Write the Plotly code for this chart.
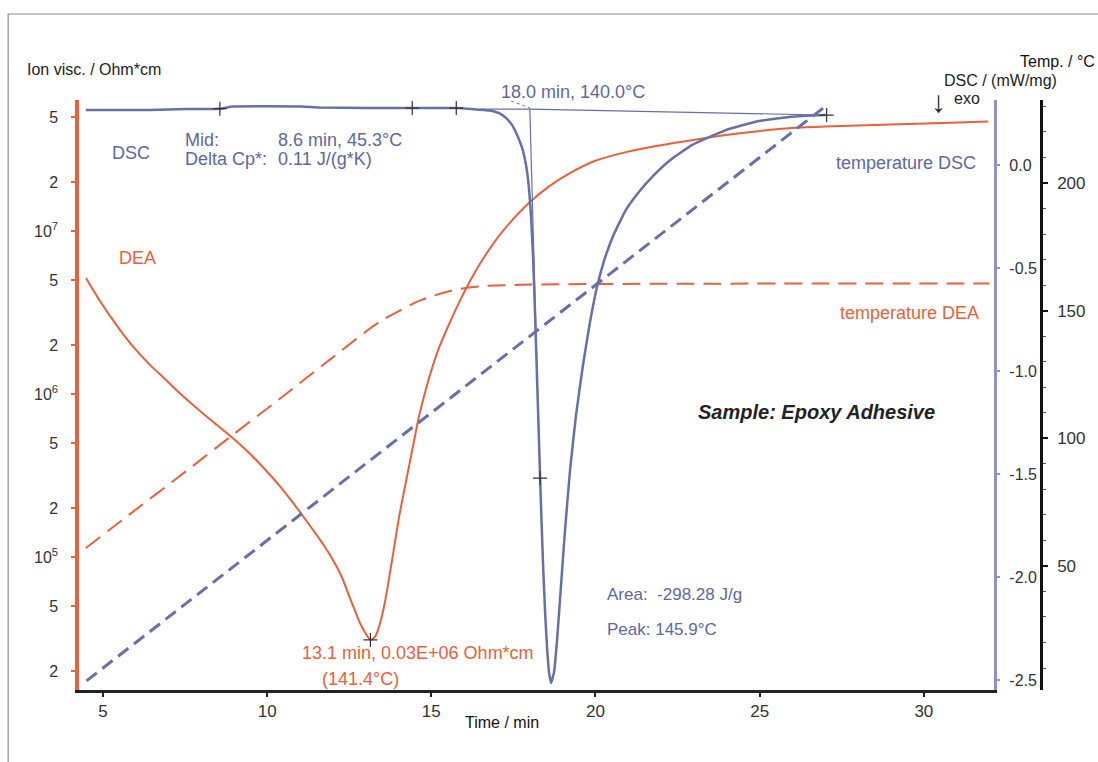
import plotly.graph_objects as go

# ---------------- data ----------------
# DEA ion viscosity (Ohm*cm) vs time (min)
time_dea = [4.483, 4.909, 5.365, 5.821, 6.429, 6.884, 7.340, 8.100, 8.951, 9.316, 9.681, 10.015, 10.38,
            10.714, 11.049, 11.383, 11.717, 12.05, 12.295, 12.508, 12.69, 12.842, 12.994, 13.146, 13.30,
            13.45, 13.60, 13.78, 14.03, 14.33, 14.635, 14.94, 15.243, 15.547, 15.851, 16.155, 16.459,
            16.915, 17.371, 17.979, 18.587, 19.195, 19.954, 20.927, 21.93, 22.93, 23.97, 24.97, 25.97,
            27.0, 28.0, 29.0, 30.05, 31.05, 31.96]
visc_dea = [5.15e6, 3.72e6, 2.73e6, 2.06e6, 1.51e6, 1.24e6, 1.01e6, 7.43e5, 5.37e5, 4.62e5, 3.91e5, 3.31e5,
            2.73e5, 2.25e5, 1.83e5, 1.48e5, 1.19e5, 9.25e4, 7.38e4, 5.69e4, 4.60e4, 3.88e4, 3.42e4, 3.10e4,
            3.27e4, 3.99e4, 5.45e4, 8.93e4, 1.81e5, 3.67e5, 7.43e5, 1.27e6, 1.94e6, 2.70e6, 3.66e6, 4.83e6,
            6.18e6, 8.53e6, 1.11e7, 1.49e7, 1.88e7, 2.25e7, 2.68e7, 3.05e7, 3.35e7, 3.61e7, 3.88e7, 4.10e7,
            4.28e7, 4.38e7, 4.44e7, 4.50e7, 4.57e7, 4.64e7, 4.70e7]

# DEA temperature (°C)
time_dea_temp = [4.48, 5.82, 7.34, 8.95, 10.38, 11.9, 13.42, 14.03, 14.63, 15.24, 15.85, 16.46, 17.98, 32.0]
temp_dea = [57.0, 70.3, 85.2, 101.3, 115.4, 130.7, 145.6, 149.9, 153.8, 156.5, 158.5, 159.5, 160.2, 160.6]

# DSC signal (mW/mg)
time_dsc = [4.48, 6.43, 7.55, 8.56, 8.95, 11.05, 11.6, 14.42, 15.76, 16.25, 16.763, 17.067, 17.28, 17.462,
            17.614, 17.766, 17.857, 17.918, 17.979, 18.04, 18.1, 18.161, 18.222, 18.283, 18.343, 18.404,
            18.465, 18.526, 18.587, 18.647, 18.739, 18.83, 18.951, 19.073, 19.225, 19.407, 19.62, 19.833,
            20.046, 20.289, 20.562, 20.927, 21.322, 21.778, 22.234, 22.933, 23.967, 24.97, 25.973, 27.006]
dsc = [0.267, 0.267, 0.272, 0.274, 0.284, 0.284, 0.279, 0.277, 0.277, 0.272, 0.265, 0.252, 0.228, 0.194,
       0.146, 0.083, 0.024, -0.034, -0.121, -0.257, -0.451, -0.728, -1.044, -1.359, -1.665, -1.942,
       -2.170, -2.345, -2.466, -2.515, -2.461, -2.306, -2.039, -1.772, -1.481, -1.214, -0.971, -0.762,
       -0.592, -0.451, -0.335, -0.218, -0.131, -0.049, 0.019, 0.097, 0.170, 0.214, 0.235, 0.243]

# DSC temperature (°C)
time_dsc_temp = [4.5, 18.0, 27.0]
temp_dsc = [5.0, 140.0, 230.0]

# DSC evaluation constructions
baseline_t = [16.5, 18.0, 27.0]
baseline_v = [0.272, 0.272, 0.243]
tangent_t = [18.0, 18.31]
tangent_v = [0.272, -1.52]
dsc_marks_t = [8.56, 14.42, 15.76, 18.31, 27.04]
dsc_marks_v = [0.274, 0.277, 0.277, -1.52, 0.243]
dea_min_t = [13.146]
dea_min_v = [3.10e4]

# axis ticks
x_ticks = [5, 10, 15, 20, 25, 30]
visc_ticks = [2e4, 5e4, 1e5, 2e5, 5e5, 1e6, 2e6, 5e6, 1e7, 2e7, 5e7]
visc_ticktext = ["2", "5", "10<sup>5</sup>", "2", "5", "10<sup>6</sup>", "2", "5", "10<sup>7</sup>", "2", "5"]
dsc_ticks = [0.0, -0.5, -1.0, -1.5, -2.0, -2.5]
dsc_ticktext = ["0.0", "-0.5", "-1.0", "-1.5", "-2.0", "-2.5"]
temp_ticks = [50, 100, 150, 200]

# ---------------- style ----------------
ORANGE = "#E8603C"
BLUE = "#6770A6"
BLUE_TXT = "#5E689C"
BLUE_AX = "#8C94C2"
DARK = "#222222"
FONT = "Liberation Sans, Arial, sans-serif"

W, H = 1098, 762
L, R, T, B = 79, 1043, 100, 690   # plot area (pixel) ; x data domain ends at 996
X_END = 996


def P(xp, yp):
    return (xp - L) / (R - L), (B - yp) / (B - T)


fig = go.Figure()

fig.add_trace(go.Scatter(x=time_dea, y=visc_dea, mode="lines", yaxis="y",
                         line=dict(color=ORANGE, width=2, shape="spline", smoothing=0.6)))
fig.add_trace(go.Scatter(x=time_dea_temp, y=temp_dea, mode="lines", yaxis="y3",
                         line=dict(color=ORANGE, width=2, dash="18px,9px", shape="spline", smoothing=0.8)))
fig.add_trace(go.Scatter(x=time_dsc_temp, y=temp_dsc, mode="lines", yaxis="y3",
                         line=dict(color=BLUE, width=3, dash="13px,7px")))
fig.add_trace(go.Scatter(x=baseline_t, y=baseline_v, mode="lines", yaxis="y2",
                         line=dict(color=BLUE, width=1.2)))
fig.add_trace(go.Scatter(x=tangent_t, y=tangent_v, mode="lines", yaxis="y2",
                         line=dict(color=BLUE, width=1.2)))
fig.add_trace(go.Scatter(x=time_dsc, y=dsc, mode="lines", yaxis="y2",
                         line=dict(color=BLUE, width=2.5, shape="spline", smoothing=0.4)))
fig.add_trace(go.Scatter(x=dsc_marks_t, y=dsc_marks_v, mode="markers", yaxis="y2",
                         marker=dict(symbol="cross-thin", size=10, line=dict(color="#333", width=1.2))))
fig.add_trace(go.Scatter(x=dea_min_t, y=dea_min_v, mode="markers", yaxis="y",
                         marker=dict(symbol="cross-thin", size=10, line=dict(color="#333", width=1.2))))

xdom_end = (X_END - L) / (R - L)

fig.update_layout(
    width=W, height=H,
    margin=dict(l=L, r=W - R, t=T, b=H - B, pad=0),
    paper_bgcolor="white", plot_bgcolor="white",
    showlegend=False,
    font=dict(family=FONT, size=17, color="#333"),
    xaxis=dict(domain=[0, xdom_end], range=[4.27, 32.14], showgrid=False, zeroline=False,
               showline=True, linecolor=DARK, linewidth=2.5, ticks="outside", ticklen=4,
               tickcolor=DARK, tickwidth=1.5, tickvals=x_ticks, anchor="y",
               tickfont=dict(size=17, color="#333")),
    yaxis=dict(type="log", range=[4.184, 7.804], showgrid=False, zeroline=False,
               showline=True, linecolor=ORANGE, linewidth=3.5, ticks="outside", ticklen=4,
               tickcolor=ORANGE, tickwidth=2, tickvals=visc_ticks, ticktext=visc_ticktext,
               ticklabelstandoff=10, tickfont=dict(size=16, color="#333")),
    yaxis2=dict(overlaying="y", side="right", anchor="x", range=[-2.549, 0.316], showgrid=False,
                zeroline=False, showline=True, linecolor=BLUE_AX, linewidth=3, ticks="outside",
                ticklen=3, tickcolor=BLUE_AX, tickwidth=2, tickvals=dsc_ticks, ticktext=dsc_ticktext,
                ticklabelstandoff=6, tickfont=dict(size=16, color="#333")),
    yaxis3=dict(overlaying="y", side="right", anchor="free", position=1.0, range=[1.4, 232.5],
                showgrid=False, zeroline=False, showline=True, linecolor="#111", linewidth=2.5,
                ticks="outside", ticklen=5, tickcolor="#111", tickwidth=1.5, tickvals=temp_ticks,
                ticklabelstandoff=6, tickfont=dict(size=17, color="#333"),
                minor=dict(dtick=10, ticks="outside", ticklen=3, tickcolor="#555", tickwidth=1)),
)

texts = [
    ("Ion visc. / Ohm*cm", 25, 70, 16, "#222", "left"),
    ("DSC", 110, 153, 18, BLUE_TXT, "left"),
    ("Mid:", 183, 140, 18, BLUE_TXT, "left"),
    ("8.6 min, 45.3°C", 276, 140, 18, BLUE_TXT, "left"),
    ("Delta Cp*:", 183, 159, 18, BLUE_TXT, "left"),
    ("0.11 J/(g*K)", 276, 159, 18, BLUE_TXT, "left"),
    ("DEA", 117, 258, 18, ORANGE, "left"),
    ("18.0 min, 140.0°C", 500, 92, 18, BLUE_TXT, "left"),
    ("temperature DSC", 836, 163, 18, BLUE_TXT, "left"),
    ("temperature DEA", 840, 313, 18, ORANGE, "left"),
    ("<b><i>Sample: Epoxy Adhesive</i></b>", 697, 412, 20, "#222", "left"),
    ("Area:  -298.28 J/g", 606, 594, 17, BLUE_TXT, "left"),
    ("Peak: 145.9°C", 606, 629, 17, BLUE_TXT, "left"),
    ("13.1 min, 0.03E+06 Ohm*cm", 300, 653, 18, ORANGE, "left"),
    ("(141.4°C)", 320, 679, 18, ORANGE, "left"),
    ("Time / min", 503, 722, 16, "#111", "center"),
    ("Temp. / °C", 1020, 62, 16, "#111", "left"),
    ("DSC / (mW/mg)", 944, 81, 16, "#222", "left"),
    ("↓", 940, 102, 30, "#222", "center"),
    ("exo", 954, 99, 16, "#222", "left"),
]
for txt, xp, yp, size, color, anchor in texts:
    px, py = P(xp, yp)
    fig.add_annotation(text=txt, x=px, y=py, xref="paper", yref="paper", showarrow=False,
                       xanchor=anchor, yanchor="middle", font=dict(size=size, color=color, family=FONT))

# dotted leader from the onset label to the onset point
x0, y0 = P(512, 101)
x1, y1 = P(531, 108)
fig.add_shape(type="line", xref="paper", yref="paper", x0=x0, y0=y0, x1=x1, y1=y1,
              line=dict(color="#777", width=1, dash="dot"))

# page frame
fx0, fy0 = P(8, 14)
fx1, fy1 = P(1110, 780)
fig.add_shape(type="rect", xref="paper", yref="paper", x0=fx0, y0=fy1, x1=fx1, y1=fy0,
              line=dict(color="#8a8a8a", width=1.2), layer="below")

fig.write_html("out.html", config={"displayModeBar": False},
               post_script="document.body.style.margin='0';document.body.style.overflow='hidden';")
